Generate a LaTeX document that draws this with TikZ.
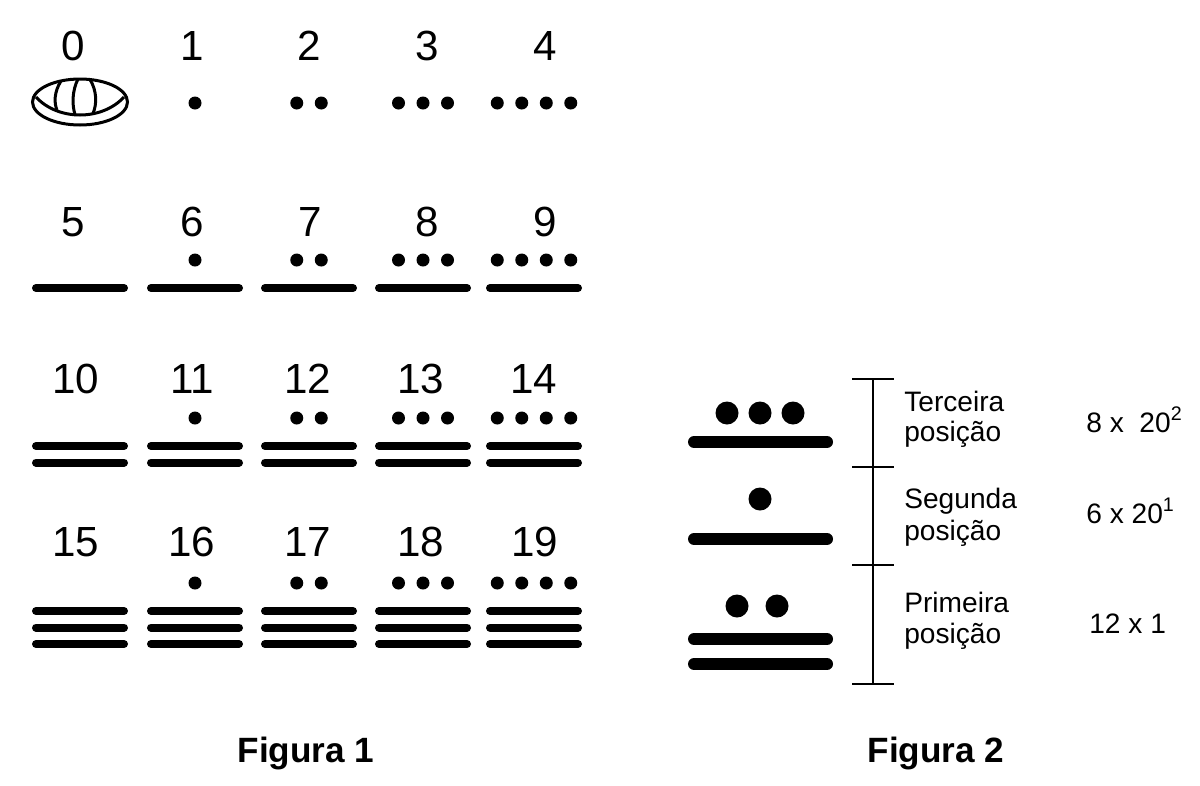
\documentclass[tikz,border=0pt]{standalone}
\usepackage{fontspec}
\setmainfont{Liberation Sans}

\begin{document}
\begin{tikzpicture}[x=0.02cm,y=-0.02cm,
		num/.style={inner sep=0pt,font=\fontsize{24}{28}\selectfont},
		txt/.style={inner sep=0pt,anchor=base west,font=\fontsize{16}{19}\selectfont},
		figlabel/.style={inner sep=0pt,anchor=base,font=\fontsize{20}{24}\selectfont\bfseries},
		bar/.style={line width=0.16cm,line cap=round},
		bigbar/.style={line width=0.24cm,line cap=round},
		shell/.style={line width=0.06cm},
		scalebar/.style={line width=0.04cm}]
	\useasboundingbox (0,0) rectangle (1200,785);

	% Figura 1: numerals
	\foreach \n/\x/\y in {0/73/46,1/192/46,2/309/46,3/427/46,4/545/46,
			5/73/222,6/192/222,7/310/222,8/427/222,9/545/222,
			10/76/379,11/192/379,12/308/379,13/421/379,14/534/379,
			15/76/542,16/192/542,17/308/542,18/421/542,19/535/542}
		\node[num] (n\n) at (\x,\y) {\n};

	% dots and bars
	\foreach \r/\dy in {0/103,1/260,2/418,3/583}
		\foreach \c/\cx in {0/80,1/195,2/309,3/423,4/534} {
			\ifnum\c>0
				\foreach \i in {1,...,\c}
					\fill ({\cx+(\i-(\c+1)/2)*24.5},\dy) circle[radius=0.13cm];
			\fi
			\ifnum\r>0
				\foreach \k in {1,...,\r}
					\draw[bar] ({\cx-44},{\dy+28+(\k-1)*16.5}) -- ({\cx+44},{\dy+28+(\k-1)*16.5});
			\fi
		}

	% zero
	\coordinate (z) at (80,102);
	\begin{scope}[shift={(z)},shell]
		\draw (0,0) ellipse[x radius=0.95cm,y radius=0.46cm];
		\draw (-44,-5) .. controls (-22,19) and (22,19) .. (44,-5);
		\draw (-19,-21) .. controls (-26,-10) and (-26,1) .. (-23,8);
		\draw (-2,-23) .. controls (-8,-11) and (-8,3) .. (-5,12.5);
		\draw (10,-22.5) .. controls (17,-11) and (17,2) .. (13,11.5);
	\end{scope}

	% Figura 2
	\coordinate (t0) at (873,379);
	\coordinate (t1) at (873,467);
	\coordinate (t2) at (873,565);
	\coordinate (t3) at (873,684);
	\draw[scalebar] (t0) -- (t3);
	\foreach \t in {t0,t1,t2,t3}
		\draw[scalebar] (\t) ++(-21,0) -- ++(42,0);

	\foreach \x in {727,760,793}
		\fill (\x,413) circle[radius=0.23cm];
	\draw[bigbar] (694,442) -- (827,442);
	\fill (760,499) circle[radius=0.23cm];
	\draw[bigbar] (694,539) -- (827,539);
	\foreach \x in {737,777}
		\fill (\x,606) circle[radius=0.23cm];
	\draw[bigbar] (694,639) -- (827,639);
	\draw[bigbar] (694,664) -- (827,664);

	\node[txt] (p3) at (904,411) {Terceira};
	\node[txt] (p3b) at (904,441) {posição};
	\node[txt] (p2) at (904,508) {Segunda};
	\node[txt] (p2b) at (904,540) {posição};
	\node[txt] (p1) at (904,612) {Primeira};
	\node[txt] (p1b) at (904,643) {posição};

	\node[txt] (v3) at (1086,432) {8 x\ \ 20\textsuperscript{2}};
	\node[txt] (v2) at (1086,523) {6 x 20\textsuperscript{1}};
	\node[txt] (v1) at (1089,633) {12 x 1};

	\node[figlabel] (f1) at (306,762) {Figura 1};
	\node[figlabel] (f2) at (936,762) {Figura 2};
\end{tikzpicture}
\end{document}
